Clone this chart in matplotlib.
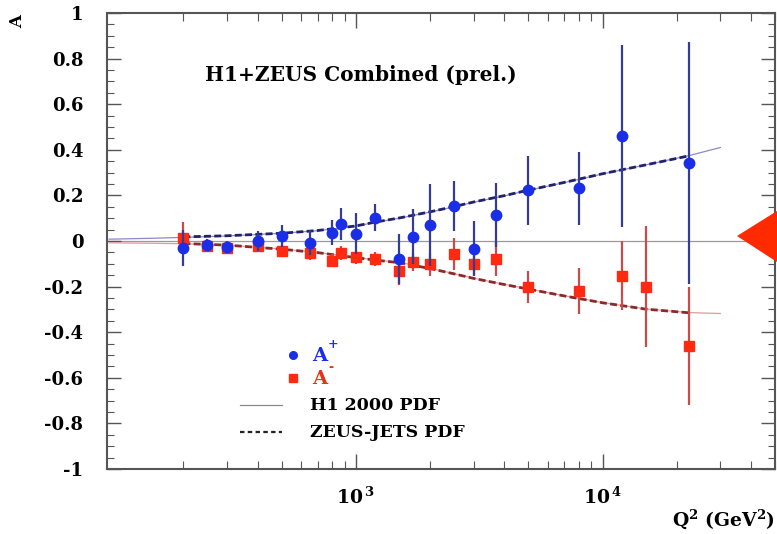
import numpy as np
import matplotlib
matplotlib.use('Agg')
import matplotlib.pyplot as plt
from matplotlib.patches import Polygon
from matplotlib.ticker import MultipleLocator, FixedLocator, NullFormatter

plt.rcParams['font.family'] = ['DejaVu Serif']
plt.rcParams['font.weight'] = 'bold'
plt.rcParams['mathtext.fontset'] = 'custom'
plt.rcParams['mathtext.rm'] = 'DejaVu Serif:bold'
plt.rcParams['mathtext.bf'] = 'DejaVu Serif:bold'
plt.rcParams['mathtext.it'] = 'DejaVu Serif:bold'

# measured asymmetries, A+ (e+ p) and A- (e- p)
q2_plus = [200, 250, 300, 400, 500, 650, 800, 870, 1000, 1200, 1500, 1700,
           2000, 2500, 3000, 3700, 5000, 8000, 12000, 22500]
a_plus = [-0.03, -0.018, -0.025, 0.0, 0.022, -0.007, 0.036, 0.076, 0.032, 0.102,
          -0.079, 0.019, 0.070, 0.155, -0.034, 0.115, 0.222, 0.231, 0.46, 0.343]
err_plus = [0.08, 0.025, 0.025, 0.045, 0.05, 0.055, 0.055, 0.07, 0.09, 0.06,
            0.11, 0.12, 0.18, 0.11, 0.12, 0.14, 0.15, 0.16, 0.40, 0.53]

q2_minus = [200, 250, 300, 400, 500, 650, 800, 870, 1000, 1200, 1500, 1700,
            2000, 2500, 3000, 3700, 5000, 8000, 12000, 15000, 22500]
a_minus = [0.012, -0.022, -0.029, -0.02, -0.042, -0.054, -0.086, -0.054, -0.072,
           -0.079, -0.133, -0.091, -0.102, -0.058, -0.102, -0.079, -0.2, -0.218,
           -0.152, -0.2, -0.46]
err_minus = [0.07, 0.02, 0.02, 0.02, 0.025, 0.03, 0.03, 0.03, 0.03, 0.03, 0.06,
             0.04, 0.05, 0.07, 0.05, 0.075, 0.07, 0.1, 0.15, 0.265, 0.26]

# H1 2000 PDF predictions
q2_h1 = [100, 150, 200, 300, 500, 700, 1000, 1200, 1500, 2000, 2500, 3000,
         4000, 5000, 7000, 10000, 15000, 22500, 30000]
h1_plus = [0.008, 0.012, 0.016, 0.022, 0.034, 0.045, 0.065, 0.082, 0.10, 0.127,
           0.15, 0.17, 0.198, 0.222, 0.256, 0.294, 0.334, 0.375, 0.41]
h1_minus = [-0.008, -0.01, -0.012, -0.018, -0.035, -0.05, -0.072, -0.083, -0.094,
            -0.12, -0.143, -0.163, -0.19, -0.21, -0.24, -0.27, -0.298, -0.314, -0.318]

# ZEUS-JETS PDF predictions
q2_zeus = [200, 300, 500, 700, 1000, 1200, 1500, 2000, 2500, 3000, 4000, 5000,
           7000, 10000, 15000, 22500]
zeus_plus = [0.018, 0.023, 0.034, 0.046, 0.066, 0.083, 0.101, 0.128, 0.151, 0.171,
             0.199, 0.223, 0.257, 0.295, 0.334, 0.374]
zeus_minus = [-0.011, -0.018, -0.036, -0.051, -0.073, -0.084, -0.095, -0.121,
              -0.144, -0.164, -0.191, -0.211, -0.241, -0.271, -0.299, -0.315]

fig = plt.figure(figsize=(7.77, 5.34), dpi=100)
ax = fig.add_axes([107 / 777, 1 - 469 / 534, 668 / 777, 456 / 534])

ax.axhline(0, color='#9a9a9a', lw=0.9, zorder=1)

ax.plot(q2_h1, h1_plus, color='#8a8ac8', lw=0.9, zorder=2)
ax.plot(q2_h1, h1_minus, color='#e49a9a', lw=0.9, zorder=2)
ax.plot(q2_zeus, zeus_plus, color='#22226a', lw=2.0, ls=(0, (2.5, 1.2)), zorder=3)
ax.plot(q2_zeus, zeus_minus, color='#8a2a2a', lw=2.0, ls=(0, (2.5, 1.2)), zorder=3)

ax.errorbar(q2_minus, a_minus, yerr=err_minus, fmt='s', color='#ff2a10',
            ecolor='#cc4a4a', elinewidth=1.6, capsize=0, markersize=7.5, zorder=4)
ax.errorbar(q2_plus, a_plus, yerr=err_plus, fmt='o', color='#1a2ee8',
            ecolor='#343c98', elinewidth=1.6, capsize=0, markersize=7.5, zorder=5)

ax.set_xscale('log')
ax.set_xlim(98, 50000)
ax.set_ylim(-1, 1)

ax.yaxis.set_minor_locator(MultipleLocator(0.05))
ax.set_yticks(np.arange(-1, 1.01, 0.2))
ax.set_yticklabels(['-1', '-0.8', '-0.6', '-0.4', '-0.2', '0', '0.2', '0.4', '0.6', '0.8', '1'])
ax.xaxis.set_major_locator(FixedLocator([1e3, 1e4]))
ax.set_xticklabels([r'$10^{\,3}$', r'$10^{\,4}$'])
minors = [m * 10 ** d for d in (2, 3, 4) for m in range(2, 10)]
ax.xaxis.set_minor_locator(FixedLocator(minors))
ax.xaxis.set_minor_formatter(NullFormatter())

ax.tick_params(which='both', direction='in', top=True, right=True, colors='#555555',
               labelcolor='black')
ax.tick_params(axis='y', which='major', length=10, width=1.0, labelsize=13, pad=17)
ax.tick_params(axis='y', which='minor', length=5, width=0.8)
ax.tick_params(axis='x', which='major', length=11, width=1.0, labelsize=13.5, pad=13)
ax.tick_params(axis='x', which='minor', length=6, width=0.8)
for s in ax.spines.values():
    s.set_color('#555555')
    s.set_linewidth(1.5)

ax.text(244, 0.728, 'H1+ZEUS Combined (prel.)', fontsize=14.5, fontweight='bold',
        va='center', ha='left')

# legend drawn by hand, in axes coordinates
ax.plot([0.278], [0.25], 'o', color='#1a2ee8', markersize=5.5, transform=ax.transAxes)
ax.plot([0.278], [0.2], 's', color='#ff2a10', markersize=5.5, transform=ax.transAxes)
ax.text(0.307, 0.247, 'A', color='#1a2ee8', fontsize=14, va='center',
        transform=ax.transAxes)
ax.text(0.331, 0.272, '+', color='#1a2ee8', fontsize=9, va='center',
        transform=ax.transAxes)
ax.text(0.307, 0.197, 'A', color='#e8301a', fontsize=14, va='center',
        transform=ax.transAxes)
ax.text(0.332, 0.222, '-', color='#e8301a', fontsize=9, va='center',
        transform=ax.transAxes)
ax.plot([0.199, 0.262], [0.14, 0.14], color='#8a8a8a', lw=0.9, transform=ax.transAxes)
ax.plot([0.199, 0.262], [0.081, 0.081], color='#222222', lw=1.6, ls=(0, (2, 1.5)),
        transform=ax.transAxes)
ax.text(0.304, 0.14, 'H1 2000 PDF', fontsize=12.5, va='center', transform=ax.transAxes)
ax.text(0.304, 0.081, 'ZEUS-JETS PDF', fontsize=12.5, va='center', transform=ax.transAxes)

fig.text(18 / 777, 1 - 22 / 534, 'A', rotation=90, fontsize=12, fontweight='bold',
         ha='center', va='center')
fig.text(0.997, 1 - 519 / 534, r'Q$^{2}$ (GeV$^{2}$)', fontsize=13.5, ha='right',
         va='center')

# red marker arrow at the right edge
tri = Polygon([[737 / 777, 1 - 236 / 534], [1.0, 1 - 211 / 534], [1.0, 1 - 262 / 534]],
              closed=True, facecolor='#ff2a00', edgecolor='none',
              transform=fig.transFigure, zorder=10)
fig.patches.append(tri)

plt.savefig('out.png', dpi=100)
